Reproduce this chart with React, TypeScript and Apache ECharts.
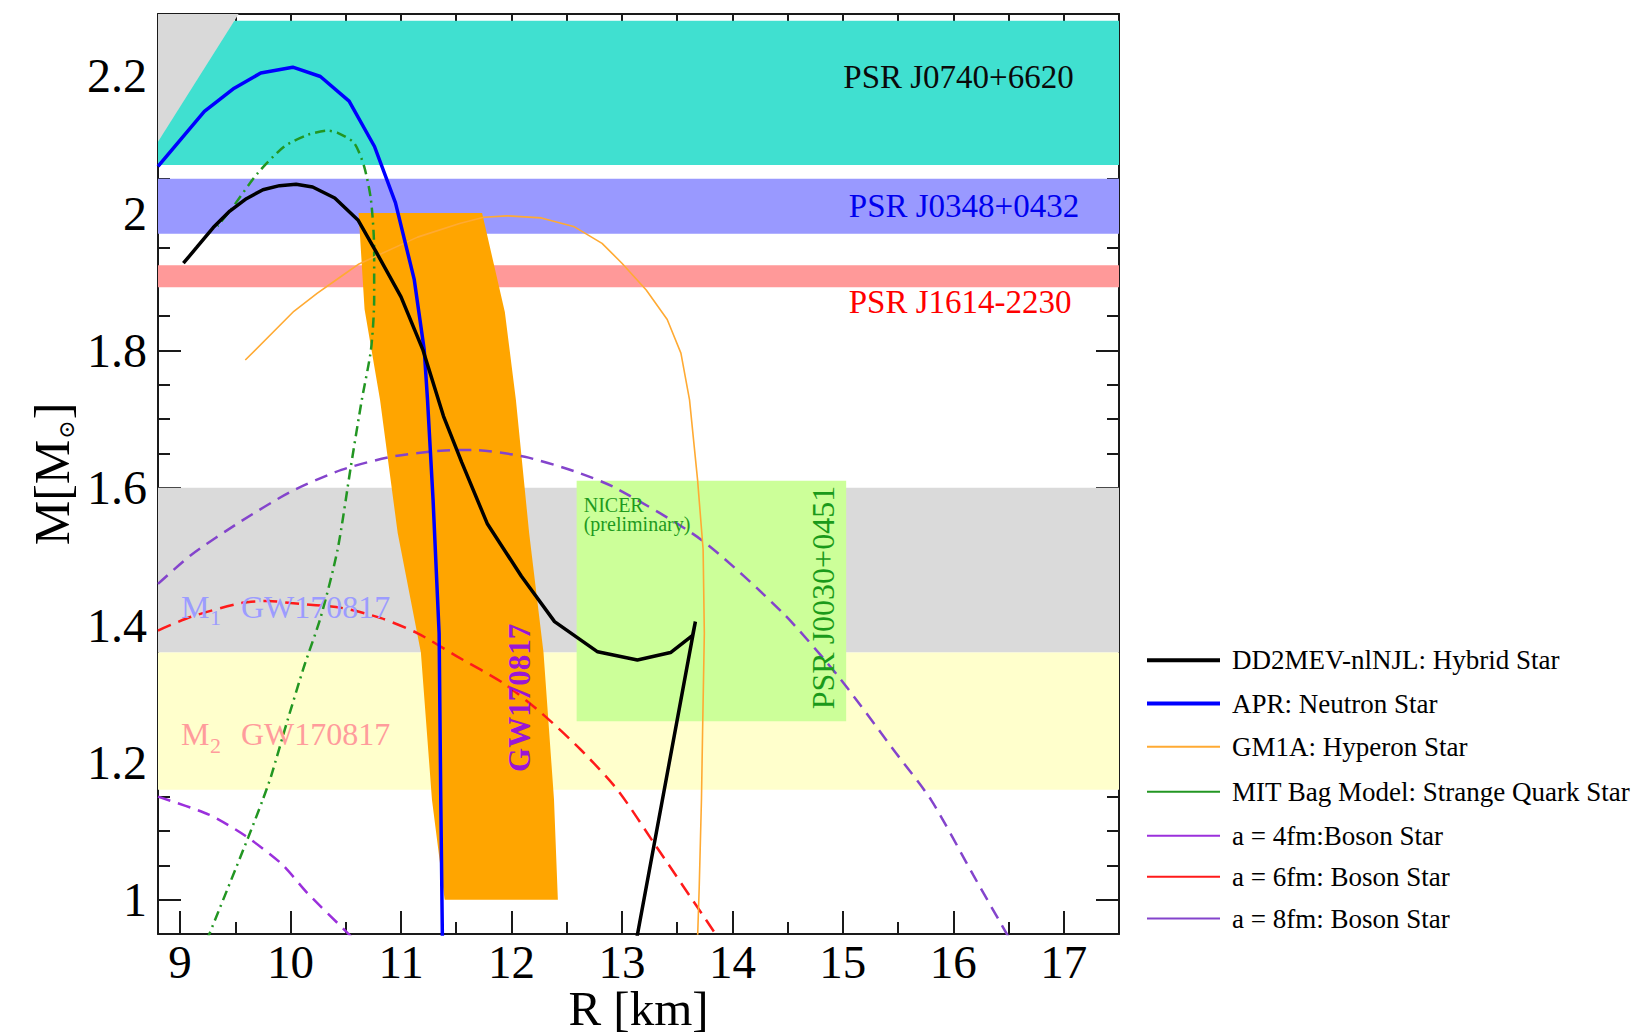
import React, { useEffect, useRef } from "react";
import * as echarts from "echarts";

const SERIF = "'Liberation Serif', 'Times New Roman', Times, serif";

// ---- axes ----
const xRange = [8.8, 17.5];
const yRange = [0.95, 2.29];
const xMajorTicks = [9, 10, 11, 12, 13, 14, 15, 16, 17];
const xMinorTicks = [9.5, 10.5, 11.5, 12.5, 13.5, 14.5, 15.5, 16.5];
const yMajorTicks = [1, 1.2, 1.4, 1.6, 1.8, 2, 2.2];
const yMinorTicks = [1.05, 1.1, 1.15, 1.25, 1.3, 1.35, 1.45, 1.5, 1.55, 1.65, 1.7, 1.75, 1.85, 1.9, 1.95, 2.05, 2.1, 2.15, 2.25];

// ---- horizontal mass bands ----
const bandNames = ["PSR J0740+6620", "PSR J0348+0432", "PSR J1614-2230", "M1 GW170817", "M2 GW170817"];
const bandLow = [2.07, 1.97, 1.892, 1.36, 1.16];
const bandHigh = [2.28, 2.05, 1.924, 1.6, 1.36];

// ---- NICER PSR J0030+0451 box ----
const nicerR = [12.59, 15.03];
const nicerM = [1.26, 1.61];

// ---- causality excluded region ----
const causalR = [8.8, 9.53, 8.8];
const causalM = [2.29, 2.29, 2.104];

// ---- GW170817 band ----
const gwLeftR = [10.616, 10.67, 10.81, 10.97, 11.18, 11.28, 11.395];
const gwLeftM = [2.0, 1.86, 1.728, 1.534, 1.36, 1.146, 1.0];
const gwRightR = [11.734, 11.94, 12.04, 12.16, 12.29, 12.385, 12.42];
const gwRightM = [2.0, 1.856, 1.728, 1.534, 1.36, 1.146, 1.0];

// ---- M-R curves ----
const hybridR = [9.03, 9.15, 9.3, 9.45, 9.6, 9.75, 9.9, 10.05, 10.2, 10.4, 10.61, 10.78, 11.0, 11.2, 11.385, 11.55, 11.78, 12.09, 12.39, 12.78, 13.14, 13.44, 13.64, 13.665, 13.13];
const hybridM = [1.927, 1.95, 1.979, 2.003, 2.021, 2.034, 2.04, 2.042, 2.038, 2.022, 1.99, 1.942, 1.878, 1.8, 1.704, 1.637, 1.548, 1.471, 1.405, 1.361, 1.349, 1.36, 1.385, 1.405, 0.94];

const aprR = [8.8, 9.22, 9.49, 9.73, 10.02, 10.27, 10.53, 10.76, 10.95, 11.12, 11.21, 11.24, 11.29, 11.345, 11.36, 11.375];
const aprM = [2.068, 2.148, 2.182, 2.204, 2.2125, 2.199, 2.163, 2.097, 2.015, 1.903, 1.801, 1.728, 1.583, 1.388, 1.146, 0.94];

const gm1aR = [9.59, 10.03, 10.24, 10.46, 10.62, 11.15, 11.53, 11.75, 11.96, 12.27, 12.57, 12.82, 13.0, 13.22, 13.41, 13.534, 13.612, 13.685, 13.735, 13.746, 13.73, 13.72, 13.7, 13.684];
const gm1aM = [1.786, 1.857, 1.883, 1.908, 1.926, 1.965, 1.985, 1.994, 1.996, 1.993, 1.98, 1.956, 1.927, 1.888, 1.845, 1.796, 1.728, 1.611, 1.51, 1.388, 1.243, 1.146, 1.02, 0.94];

const mitR = [9.24, 9.62, 9.747, 9.822, 9.974, 10.123, 10.274, 10.426, 10.546, 10.645, 10.728, 10.757, 10.757, 10.728, 10.666, 10.576, 10.426, 10.336, 10.155, 9.943, 9.702, 9.46, 9.339];
const mitM = [0.94, 1.092, 1.145, 1.179, 1.262, 1.34, 1.412, 1.51, 1.631, 1.728, 1.801, 1.874, 1.947, 2.019, 2.068, 2.102, 2.117, 2.12, 2.114, 2.097, 2.058, 2.005, 1.981];

const bs4R = [8.8, 9.26, 9.59, 9.92, 10.15, 10.52, 10.59];
const bs4M = [1.15, 1.124, 1.093, 1.052, 1.01, 0.951, 0.94];

const bs6R = [8.8, 9.1, 9.55, 9.8, 10.0, 10.46, 10.82, 11.15, 11.51, 11.93, 12.27, 12.63, 12.96, 13.3, 13.89];
const bs6M = [1.392, 1.412, 1.432, 1.435, 1.432, 1.425, 1.41, 1.388, 1.354, 1.315, 1.272, 1.218, 1.16, 1.08, 0.94];

const bs8R = [8.8, 9.1, 9.55, 10.0, 10.46, 10.91, 11.36, 11.66, 12.12, 12.57, 12.95, 13.72, 14.46, 14.96, 15.46, 15.8, 16.18, 16.52];
const bs8M = [1.46, 1.502, 1.551, 1.594, 1.626, 1.645, 1.654, 1.655, 1.645, 1.624, 1.599, 1.524, 1.417, 1.325, 1.218, 1.145, 1.036, 0.94];

const seriesNames = [
  "DD2MEV-nlNJL: Hybrid Star",
  "APR: Neutron Star",
  "GM1A: Hyperon Star",
  "MIT Bag Model: Strange Quark Star",
  "a = 4fm:Boson Star",
  "a = 6fm: Boson Star",
  "a = 8fm: Boson Star",
];

// ---- annotations ----
const labelTexts = ["PSR J0740+6620", "PSR J0348+0432", "PSR J1614-2230", "NICER", "(preliminary)", "PSR J0030+0451", "GW170817"];
const labelR = [17.09, 17.14, 17.07, 12.654, 12.654, 14.82, 12.073];
const labelM = [2.198, 2.011, 1.871, 1.575, 1.5475, 1.44, 1.294];

const massLabelMain = ["M", "M"];
const massLabelSub = ["1", "2"];
const massLabelTail = ["GW170817", "GW170817"];
const massLabelR = [9.008, 9.008];
const massLabelM = [1.427, 1.241];

const zip = (xs: number[], ys: number[]) => xs.map((x, i) => [x, ys[i]]);

function buildOption(): any {
  const rectColors = ["#40E0D0", "#9999FF", "#FF9999", "#DADADA", "#FFFFCC", "#CCFF99"];
  const rects = [
    ...bandLow.map((lo, i) => [xRange[0], xRange[1], lo, bandHigh[i]]),
    [nicerR[0], nicerR[1], nicerM[0], nicerM[1]],
  ];

  const labelStyles = [
    { color: "#0a0a0a", size: 33, align: "right", rot: 0, weight: "normal" },
    { color: "#0000EE", size: 33, align: "right", rot: 0, weight: "normal" },
    { color: "#FF0000", size: 33, align: "right", rot: 0, weight: "normal" },
    { color: "#1E9A1E", size: 20, align: "left", rot: 0, weight: "normal" },
    { color: "#1E9A1E", size: 20, align: "left", rot: 0, weight: "normal" },
    { color: "#1A9A1A", size: 32, align: "center", rot: Math.PI / 2, weight: "normal" },
    { color: "#9A16D6", size: 31, align: "center", rot: Math.PI / 2, weight: "bold" },
  ];
  const massLabelColors = ["#9C9CFF", "#FF9C9C"];

  const axisLineStyle = { color: "#1a1a1a", width: 2 };
  const tickStyle = { color: "#1a1a1a", width: 2 };

  const xBase = {
    type: "value",
    min: xRange[0],
    max: xRange[1],
    splitLine: { show: false },
    axisLine: { show: true, onZero: false, lineStyle: axisLineStyle },
    nameMoveOverlap: false,
  };
  const yBase = {
    type: "value",
    min: yRange[0],
    max: yRange[1],
    splitLine: { show: false },
    axisLine: { show: true, onZero: false, lineStyle: axisLineStyle },
    nameMoveOverlap: false,
  };
  const xMajTick = { show: true, inside: true, length: 23, lineStyle: tickStyle, customValues: xMajorTicks };
  const xMinTick = { show: true, inside: true, length: 12, lineStyle: tickStyle, customValues: xMinorTicks };
  const yMajTick = { show: true, inside: true, length: 23, lineStyle: tickStyle, customValues: yMajorTicks };
  const yMinTick = { show: true, inside: true, length: 12, lineStyle: tickStyle, customValues: yMinorTicks };

  const lineBase = {
    type: "line",
    xAxisIndex: 0,
    yAxisIndex: 0,
    symbol: "none",
    showSymbol: false,
    clip: true,
    silent: true,
    z: 3,
  };

  const legendCenters = [661.7, 705, 748.3, 793.3, 837.3, 878.3, 920];
  const legendWidths = [4, 4, 2, 2, 2, 2, 2];

  return {
    animation: false,
    backgroundColor: "#ffffff",
    grid: [
      { left: 158, top: 14, width: 961, height: 920, outerBoundsMode: "none" },
      { left: 158, top: 14, width: 961, height: 920, outerBoundsMode: "none" },
    ],
    xAxis: [
      {
        ...xBase,
        gridIndex: 0,
        position: "bottom",
        axisTick: xMajTick,
        axisLabel: { show: true, customValues: xMajorTicks, fontSize: 47, lineHeight: 38, fontFamily: SERIF, color: "#000", margin: 9 },
        name: "R [km]",
        nameLocation: "middle",
        nameGap: 51,
        nameTextStyle: { fontSize: 49, lineHeight: 46, fontFamily: SERIF, color: "#000" },
      },
      { ...xBase, gridIndex: 0, position: "top", axisTick: xMajTick, axisLabel: { show: false } },
      { ...xBase, gridIndex: 1, position: "bottom", axisLine: { show: false }, axisTick: xMinTick, axisLabel: { show: false } },
      { ...xBase, gridIndex: 1, position: "top", axisLine: { show: false }, axisTick: xMinTick, axisLabel: { show: false } },
    ],
    yAxis: [
      {
        ...yBase,
        gridIndex: 0,
        position: "left",
        axisTick: yMajTick,
        axisLabel: { show: true, customValues: yMajorTicks, fontSize: 48, fontFamily: SERIF, color: "#000", margin: 11 },
        name: "{a|M[M}{b|⊙}{a|]}",
        nameLocation: "middle",
        nameGap: 81,
        nameTextStyle: {
          rich: {
            a: { fontSize: 50, lineHeight: 50, fontFamily: SERIF, color: "#000", verticalAlign: "top" },
            b: { fontSize: 22, lineHeight: 22, fontFamily: "'DejaVu Serif', serif", color: "#000", verticalAlign: "bottom", padding: [40, 1, 0, 1] },
          },
        },
      },
      { ...yBase, gridIndex: 0, position: "right", axisTick: yMajTick, axisLabel: { show: false } },
      { ...yBase, gridIndex: 1, position: "left", axisLine: { show: false }, axisTick: yMinTick, axisLabel: { show: false } },
      { ...yBase, gridIndex: 1, position: "right", axisLine: { show: false }, axisTick: yMinTick, axisLabel: { show: false } },
    ],
    legend: seriesNames.map((name, i) => ({
      data: [name],
      left: 1147,
      top: legendCenters[i] - 15,
      padding: 0,
      icon: "rect",
      itemWidth: 73,
      itemHeight: legendWidths[i],
      selectedMode: false,
      textStyle: { fontSize: 27, fontFamily: SERIF, color: "#000", padding: [0, 0, 0, 7] },
    })),
    series: [
      {
        type: "custom",
        name: "bands",
        xAxisIndex: 0,
        yAxisIndex: 0,
        silent: true,
        z: 1,
        encode: { x: [0, 1], y: [2, 3] },
        data: rects,
        renderItem: (params: any, api: any) => {
          const p0 = api.coord([api.value(0), api.value(3)]);
          const p1 = api.coord([api.value(1), api.value(2)]);
          return {
            type: "rect",
            shape: { x: p0[0], y: p0[1], width: p1[0] - p0[0], height: p1[1] - p0[1] },
            style: { fill: rectColors[params.dataIndex] },
          };
        },
      },
      {
        type: "custom",
        name: "regions",
        xAxisIndex: 0,
        yAxisIndex: 0,
        silent: true,
        z: 1,
        data: [[causalR[0], causalM[0]], [gwLeftR[0], gwLeftM[0]]],
        renderItem: (params: any, api: any) => {
          if (params.dataIndex === 0) {
            const pts = causalR.map((r, i) => api.coord([r, causalM[i]]));
            return { type: "polygon", shape: { points: pts }, style: { fill: "#D9D9D9" } };
          }
          const left = gwLeftR.map((r, i) => api.coord([r, gwLeftM[i]]));
          const right = gwRightR.map((r, i) => api.coord([r, gwRightM[i]])).reverse();
          return { type: "polygon", shape: { points: [...left, ...right] }, style: { fill: "#FFA500" } };
        },
      },
      {
        ...lineBase,
        name: seriesNames[3],
        data: zip(mitR, mitM),
        smooth: 0.25,
        lineStyle: { color: "#229622", width: 2.5, type: [10, 5, 2, 5] },
        itemStyle: { color: "#229622" },
      },
      {
        ...lineBase,
        name: seriesNames[4],
        data: zip(bs4R, bs4M),
        smooth: 0.25,
        lineStyle: { color: "#9B30DC", width: 2.5, type: [13, 8] },
        itemStyle: { color: "#9B30DC" },
      },
      {
        ...lineBase,
        name: seriesNames[5],
        data: zip(bs6R, bs6M),
        smooth: 0.25,
        lineStyle: { color: "#FF1A1A", width: 2.5, type: [14, 8] },
        itemStyle: { color: "#FF1A1A" },
      },
      {
        ...lineBase,
        name: seriesNames[6],
        data: zip(bs8R, bs8M),
        smooth: 0.25,
        lineStyle: { color: "#8444CC", width: 2.5, type: [13, 8] },
        itemStyle: { color: "#8444CC" },
      },
      {
        ...lineBase,
        name: seriesNames[2],
        data: zip(gm1aR, gm1aM),
        lineStyle: { color: "#FFAA33", width: 1.6 },
        itemStyle: { color: "#FFAA33" },
      },
      {
        ...lineBase,
        name: seriesNames[1],
        data: zip(aprR, aprM),
        lineStyle: { color: "#0000FF", width: 3.5 },
        itemStyle: { color: "#0000FF" },
      },
      {
        ...lineBase,
        name: seriesNames[0],
        data: zip(hybridR, hybridM),
        lineStyle: { color: "#000000", width: 3.5 },
        itemStyle: { color: "#000000" },
      },
      {
        type: "custom",
        name: "labels",
        xAxisIndex: 0,
        yAxisIndex: 0,
        silent: true,
        z: 5,
        data: zip(labelR, labelM),
        renderItem: (params: any, api: any) => {
          const i = params.dataIndex;
          const p = api.coord([labelR[i], labelM[i]]);
          const s = labelStyles[i];
          return {
            type: "text",
            x: p[0],
            y: p[1],
            rotation: s.rot,
            style: {
              text: labelTexts[i],
              fill: s.color,
              fontSize: s.size,
              fontFamily: SERIF,
              fontWeight: s.weight,
              align: s.align,
              verticalAlign: "middle",
            },
          };
        },
      },
      {
        type: "custom",
        name: "massLabels",
        xAxisIndex: 0,
        yAxisIndex: 0,
        silent: true,
        z: 5,
        data: zip(massLabelR, massLabelM),
        renderItem: (params: any, api: any) => {
          const i = params.dataIndex;
          const p = api.coord([massLabelR[i], massLabelM[i]]);
          const c = massLabelColors[i];
          const common = { fill: c, fontFamily: SERIF, align: "left", verticalAlign: "middle" };
          return {
            type: "group",
            x: p[0],
            y: p[1],
            children: [
              { type: "text", x: 0, y: 0, style: { ...common, text: massLabelMain[i], fontSize: 32 } },
              { type: "text", x: 29, y: 11, style: { ...common, text: massLabelSub[i], fontSize: 22 } },
              { type: "text", x: 60, y: 0, style: { ...common, text: massLabelTail[i], fontSize: 32 } },
            ],
          };
        },
      },
    ],
  };
}

export default function App() {
  const ref = useRef<HTMLDivElement>(null);
  useEffect(() => {
    if (!ref.current) return;
    const chart = echarts.init(ref.current, null, { renderer: "svg" });
    chart.setOption(buildOption());
    return () => {
      chart.dispose();
    };
  }, []);
  return (
    <div
      ref={ref}
      style={{ position: "absolute", left: 0, top: 0, width: 1633, height: 1036, background: "#ffffff" }}
    />
  );
}
